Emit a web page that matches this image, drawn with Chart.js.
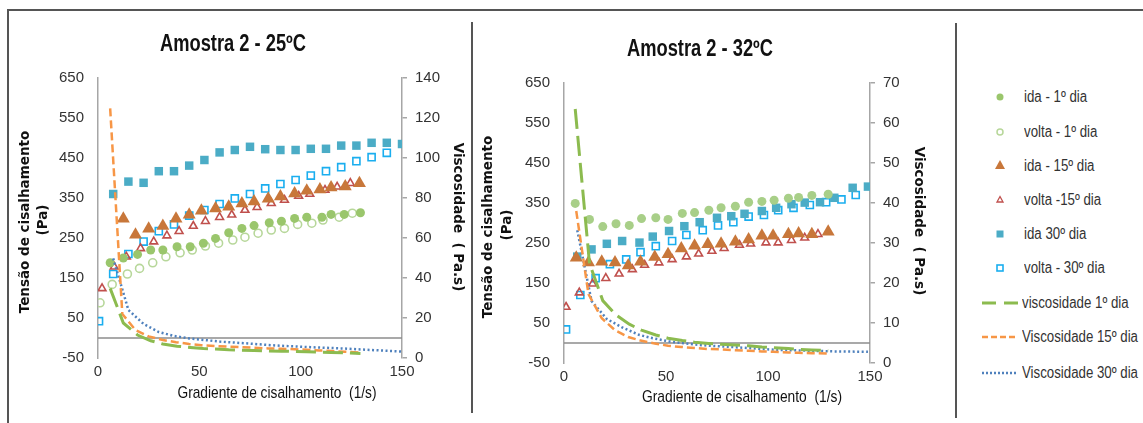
<!DOCTYPE html>
<html>
<head>
<meta charset="utf-8">
<script src="https://cdn.jsdelivr.net/npm/chart.js@4/dist/chart.umd.min.js"></script>
<style>
    body { margin: 0; background: #fff; width: 1143px; height: 423px; overflow: hidden; position: relative; }
    canvas { position: absolute; top: 0; }
    #c1 { left: 0; }
    #c2 { left: 470px; }
    .linha { position: absolute; background: #555; }
    .item { position: absolute; height: 20px; font-family: 'Liberation Sans', Arial, sans-serif; font-size: 16px; color: #333; white-space: nowrap; line-height: 20px; }
    .item svg { position: absolute; left: 0; top: 0; }
    .item span { position: absolute; top: 0; transform-origin: left center; }
</style>
</head>
<body>
<div class="linha" style="left:8px;top:9px;width:1135px;height:2px"></div>
<div class="linha" style="left:7px;top:9px;width:2px;height:414px"></div>
<div class="linha" style="left:471px;top:22px;width:2px;height:391px"></div>
<div class="linha" style="left:955px;top:23px;width:2px;height:395px"></div>
<canvas id="c1" width="470" height="423"></canvas>
<canvas id="c2" width="480" height="423"></canvas>
<script>
// Amostra 2 - 25ºC : gradiente (1/s) e tensao (Pa)
const gIda1_25 = [6, 12.5, 19.5, 26, 32, 39, 45.5, 52, 58, 64.5, 71, 77, 84.5, 90.5, 97, 103, 110.5, 115, 121.5, 129.5]
const tIda1_25 = [188, 200, 209, 220, 220, 228, 228, 237, 249, 263, 274, 281, 288, 292, 299, 302, 302, 309, 309, 313]
const gVolta1_25 = [1, 7, 14.5, 20.5, 27, 33.5, 40.5, 46.5, 53, 59.5, 66.5, 72.5, 79, 85.5, 92, 98.5, 105.5, 111, 119, 125.5]
const tVolta1_25 = [88, 134, 160, 174, 188, 203, 213, 220, 230, 237, 245, 252, 262, 270, 274, 284, 287, 295, 302, 312]
const gIda15_25 = [12.5, 18.5, 25, 32, 38.5, 45, 51, 58, 64.5, 71, 77, 84, 90, 97, 103, 109.5, 115, 122, 129]
const tIda15_25 = [298, 258, 273, 280, 298, 308, 318, 324, 328, 336, 341, 348, 354, 361, 368, 371, 376, 379, 387]
const gVolta15_25 = [2, 8, 14, 21, 27.5, 34, 40, 47, 53, 60, 66, 72.5, 78.5, 85.5, 92, 99, 104.5, 112, 118, 124.5]
const tVolta15_25 = [124, 178, 203, 224, 241, 256, 267, 280, 292, 302, 308, 320, 327, 337, 345, 355, 360, 370, 378, 387]
const gIda30_25 = [7.5, 15, 22.5, 30, 37.5, 45, 52.5, 60, 67.5, 75, 82.5, 90, 97.5, 105, 112.5, 120, 127.5, 135, 142.5, 150]
const tIda30_25 = [360, 391, 388, 417, 417, 431, 445, 464, 470, 478, 472, 470, 470, 473, 473, 481, 481, 488, 488, 485]
const gVolta30_25 = [0.5, 7.5, 15, 22.5, 30, 37.5, 45, 52.5, 60, 67.5, 75, 82.5, 90, 97.5, 105, 112.5, 120, 127.5, 135, 142.5]
const tVolta30_25 = [42, 160, 210, 241, 267, 284, 306, 320, 335, 349, 360, 374, 385, 395, 406, 417, 427, 442, 452, 463]
// viscosidade (Pa.s)
const gVisc15_25 = [6, 12, 18.5, 25, 32, 38.5, 45, 51, 58, 64.5, 71, 77, 84, 90, 97, 103, 109.5, 115, 122, 129]
const vVisc1_25 = [34.8, 17.5, 11.5, 8.6, 7.0, 5.9, 5.3, 4.75, 4.5, 4.1, 3.9, 3.7, 3.5, 3.4, 3.25, 3.1, 2.9, 2.8, 2.6, 2.3]
const vVisc15_25 = [124.8, 22, 14, 10.8, 9, 7.9, 7.0, 6.4, 6.0, 5.7, 5.4, 5.1, 4.8, 4.6, 4.4, 4.1, 3.8, 3.5, 3.1, 2.7]
const vVisc30_25 = [49.8, 24, 17, 13, 11, 9.8, 9, 8.2, 7.7, 7.2, 6.6, 6.1, 5.8, 5.4, 5.1, 4.8, 4.4, 4.0, 3.6, 3.2]

// Amostra 2 - 32ºC
const gIda1_32 = [5.5, 12.5, 19, 25.5, 32, 38, 45, 51, 58, 64, 71, 77, 84, 90.5, 97, 103, 110, 115, 121.5, 129.5]
const tIda1_32 = [349, 309, 291, 298, 294, 311, 313, 309, 324, 326, 332, 338, 342, 352, 354, 357, 362, 364, 369, 372]
const gIda15_32 = [6, 12, 18.5, 25, 31.5, 37.5, 44.5, 51, 57.5, 64, 70.5, 77, 84, 90.5, 97, 102.5, 110, 115, 121.5, 129.5]
const tIda15_32 = [213, 201, 203, 201, 194, 203, 215, 222, 236, 243, 247, 248, 253, 259, 268, 268, 272, 274, 272, 278]
const gVolta15_32 = [1, 7.5, 14, 20.5, 27, 33.5, 39.5, 46.5, 53, 60, 66, 72.5, 78.5, 86, 91.5, 99, 105, 111.5, 118, 124.5]
const tVolta15_32 = [90, 126, 148, 162, 173, 184, 195, 201, 209, 216, 223, 230, 237, 245, 248, 251, 251, 257, 263, 272]
const gIda30_32 = [6.5, 13.5, 21, 28.5, 37, 43.5, 51.5, 59, 66.5, 75, 82, 88.5, 97, 104, 111.5, 118, 125.5, 132.5, 141.5, 149]
const tIda30_32 = [216, 234, 248, 255, 251, 266, 280, 292, 302, 313, 317, 323, 330, 338, 347, 351, 352, 363, 388, 391]
const gVolta30_32 = [1, 8, 15.5, 22.5, 30.5, 37.5, 45, 53, 60, 68, 75.5, 83, 90.5, 98, 105, 112.5, 120.5, 128.5, 136, 143]
const tVolta30_32 = [34, 120, 162, 197, 209, 227, 242, 255, 270, 282, 294, 302, 316, 320, 332, 338, 345, 352, 359, 370]
const vVisc1_32 = [63.5, 24.9, 15.6, 12, 9.7, 8.2, 7.0, 6.2, 5.6, 5.2, 4.9, 4.7, 4.5, 4.3, 4.0, 3.8, 3.6, 3.4, 3.25, 3.1]
const vVisc15_32 = [38, 17.2, 11.2, 8.2, 6.5, 5.6, 4.9, 4.3, 4.0, 3.75, 3.5, 3.4, 3.2, 3.05, 2.9, 2.8, 2.65, 2.55, 2.45, 2.35]
const vVisc30_32 = [33.2, 15.5, 11, 8.9, 7, 6.2, 5.4, 4.9, 4.5, 4.2, 4.0, 3.8, 3.5, 3.3, 3.2, 3.1, 3.0, 2.9, 2.85, 2.8]

const xTicks = [0, 50, 100, 150]
const tensaoTicks = [-50, 50, 150, 250, 350, 450, 550, 650]

const fonte = "'Liberation Sans', Arial, sans-serif"
const verde = '#9ac66c', verdeClaro = '#b7d79a', marrom = '#c8773a', vermelho = '#c0504d'
const azul = '#4bacc6', ciano = '#1aaeef'
const lVerde = '#8cbb4f', lLaranja = '#f79646', lAzul = '#4f81bd'

function pts(xs, ys) {
    return xs.map((x, i) => ({ x: x, y: ys[i] }))
}

function marcador(label, data, estilo, raio, cor, cheio) {
    return {
        label: label, data: data, yAxisID: 'y', order: 2, showLine: false,
        pointStyle: estilo, pointRadius: raio, pointHoverRadius: raio,
        backgroundColor: cheio ? cor : 'rgba(255,255,255,0)',
        borderColor: cor, borderWidth: cheio ? 0 : 1.6
    }
}

function linha(label, data, cor, dash, largura) {
    return {
        label: label, data: data, yAxisID: 'y2', order: 1, showLine: true,
        borderColor: cor, borderWidth: largura, borderDash: dash, pointRadius: 0, tension: 0,
        backgroundColor: cor
    }
}

// linha do zero e textos (w = largura desejada, texto comprimido como Calibri)
const decoracao = {
    id: 'decoracao',
    beforeDatasetsDraw(chart) {
        const c = chart.ctx, a = chart.chartArea
        const y0 = chart.scales.y.getPixelForValue(0)
        c.save()
        c.strokeStyle = '#8c8c8c'
        c.lineWidth = 1.5
        c.beginPath()
        c.moveTo(a.left, y0)
        c.lineTo(a.right, y0)
        c.stroke()
        c.restore()
    },
    afterDraw(chart, args, opts) {
        const c = chart.ctx
        opts.textos.forEach(t => {
            c.save()
            c.translate(t.x, t.y)
            c.rotate(t.rot || 0)
            c.font = t.font
            if (t.w) c.scale(t.w / c.measureText(t.txt).width, 1)
            c.fillStyle = t.cor || '#111'
            c.textAlign = 'center'
            c.textBaseline = 'middle'
            c.fillText(t.txt, 0, 0)
            c.restore()
        })
    }
}

function grafico(id, datasets, v2max, v2step, area, textos) {
    const ctx = document.getElementById(id).getContext('2d')
    return new Chart(ctx, {
        type: 'scatter',
        data: { datasets: datasets },
        plugins: [decoracao],
        options: {
            responsive: false,
            animation: false,
            layout: { padding: { top: area.top, left: 0, right: 0, bottom: 0 } },
            plugins: {
                legend: { display: false },
                tooltip: { enabled: false },
                decoracao: { textos: textos }
            },
            scales: {
                x: {
                    type: 'linear', min: 0, max: 150,
                    afterBuildTicks: s => { s.ticks = xTicks.map(v => ({ value: v })) },
                    ticks: { padding: 5, color: '#333', font: { family: fonte, size: 15 } },
                    grid: { display: false, drawTicks: false },
                    border: { display: false },
                    afterFit: s => { s.height = area.xh }
                },
                y: {
                    position: 'left', min: -50, max: 650,
                    afterBuildTicks: s => { s.ticks = tensaoTicks.map(v => ({ value: v })) },
                    ticks: { padding: 14, color: '#333', font: { family: fonte, size: 15 } },
                    grid: { display: false, drawTicks: false },
                    border: { display: true, color: '#a6a6a6', width: 1.5 },
                    afterFit: s => { s.width = area.yw }
                },
                y2: {
                    position: 'right', min: 0, max: v2max,
                    ticks: { stepSize: v2step, padding: 8, color: '#333', font: { family: fonte, size: 15 } },
                    grid: { drawOnChartArea: false, drawTicks: true, tickLength: 5, color: '#a6a6a6', lineWidth: 1.5 },
                    border: { display: true, color: '#a6a6a6', width: 1.5 },
                    afterFit: s => { s.width = area.y2w }
                }
            }
        }
    })
}

const fTitulo = "bold 23px " + fonte
const fEixo = "bold 13.5px 'DejaVu Sans', sans-serif"
const fX = "17px " + fonte
const rotE = -Math.PI / 2, rotD = Math.PI / 2

grafico('c1', [
    linha('viscosidade 1º dia', pts(gIda1_25, vVisc1_25), lVerde, [20, 7], 3),
    linha('Viscosidade 15º dia', pts(gVisc15_25, vVisc15_25), lLaranja, [8, 4], 2.5),
    linha('Viscosidade 30º dia', pts(gIda30_25, vVisc30_25), lAzul, [2, 2.5], 2.5),
    marcador('ida - 1º dia', pts(gIda1_25, tIda1_25), 'circle', 4.5, verde, true),
    marcador('volta - 1º dia', pts(gVolta1_25, tVolta1_25), 'circle', 4, verdeClaro, false),
    marcador('ida - 15º dia', pts(gIda15_25, tIda15_25), 'triangle', 7.5, marrom, true),
    marcador('volta -15º dia', pts(gVolta15_25, tVolta15_25), 'triangle', 4.5, vermelho, false),
    marcador('ida 30º dia', pts(gIda30_25, tIda30_25), 'rect', 6, azul, true),
    marcador('volta - 30º dia', pts(gVolta30_25, tVolta30_25), 'rect', 5, ciano, false)
], 140, 20, { top: 78, yw: 98, y2w: 68, xh: 65 }, [
    { txt: 'Amostra 2 - 25ºC', x: 233, y: 45, font: fTitulo, w: 146 },
    { txt: 'Tensão de cisalhamento', x: 25, y: 222, rot: rotE, font: fEixo },
    { txt: '(Pa)', x: 43, y: 220, rot: rotE, font: fEixo },
    { txt: 'Viscosidade  ( Pa.s)', x: 457, y: 217, rot: rotD, font: fEixo },
    { txt: 'Gradiente de cisalhamento  (1/s)', x: 277, y: 393, font: fX, w: 199 }
])

grafico('c2', [
    linha('viscosidade 1º dia', pts(gIda1_32, vVisc1_32), lVerde, [20, 7], 3),
    linha('Viscosidade 15º dia', pts(gIda15_32, vVisc15_32), lLaranja, [8, 4], 2.5),
    linha('Viscosidade 30º dia', pts(gIda30_32, vVisc30_32), lAzul, [2, 2.5], 2.5),
    marcador('ida - 1º dia', pts(gIda1_32, tIda1_32), 'circle', 4.5, '#a8cf88', true),
    marcador('ida - 15º dia', pts(gIda15_32, tIda15_32), 'triangle', 7.5, marrom, true),
    marcador('volta -15º dia', pts(gVolta15_32, tVolta15_32), 'triangle', 4.5, vermelho, false),
    marcador('ida 30º dia', pts(gIda30_32, tIda30_32), 'rect', 6, azul, true),
    marcador('volta - 30º dia', pts(gVolta30_32, tVolta30_32), 'rect', 5, ciano, false)
], 70, 10, { top: 83, yw: 94, y2w: 80, xh: 60 }, [
    { txt: 'Amostra 2 - 32ºC', x: 230, y: 50, font: fTitulo, w: 146 },
    { txt: 'Tensão de cisalhamento', x: 18, y: 227, rot: rotE, font: fEixo },
    { txt: '(Pa)', x: 37, y: 225, rot: rotE, font: fEixo },
    { txt: 'Viscosidade  ( Pa.s)', x: 448, y: 221, rot: rotD, font: fEixo },
    { txt: 'Gradiente de cisalhamento  (1/s)', x: 272, y: 397, font: fX, w: 200 }
])

// legenda
const legendaItens = [
    ['ida - 1º dia', '<circle cx="20" cy="10" r="3.5" fill="' + verde + '"/>'],
    ['volta - 1º dia', '<circle cx="20" cy="10" r="3" fill="none" stroke="' + verdeClaro + '" stroke-width="1.5"/>'],
    ['ida - 15º dia', '<polygon points="20,4 25,13 15,13" fill="' + marrom + '"/>'],
    ['volta -15º dia', '<polygon points="20,6.5 23,12 17,12" fill="none" stroke="' + vermelho + '" stroke-width="1.3"/>'],
    ['ida 30º dia', '<rect x="16.5" y="6.5" width="7" height="7" fill="' + azul + '"/>'],
    ['volta - 30º dia', '<rect x="17" y="7" width="6" height="6" fill="none" stroke="' + ciano + '" stroke-width="1.6"/>'],
    ['viscosidade 1º dia', '<line x1="2" y1="10" x2="38" y2="10" stroke="' + lVerde + '" stroke-width="3" stroke-dasharray="14,8"/>'],
    ['Viscosidade 15º dia', '<line x1="2" y1="10" x2="38" y2="10" stroke="' + lLaranja + '" stroke-width="2.5" stroke-dasharray="6,3"/>'],
    ['Viscosidade 30º dia', '<line x1="2" y1="10" x2="38" y2="10" stroke="' + lAzul + '" stroke-width="2.5" stroke-dasharray="2,2"/>']
]
const legendaY = [97, 132, 166, 200, 234, 268, 303, 337, 373]
const spans = []
legendaItens.forEach((it, i) => {
    const d = document.createElement('div')
    d.className = 'item'
    d.style.left = '980px'
    d.style.top = (legendaY[i] - 10) + 'px'
    d.innerHTML = '<svg width="40" height="20">' + it[1] + '</svg><span style="left:' + (i < 6 ? 44 : 42) + 'px">' + it[0] + '</span>'
    document.body.appendChild(d)
    spans.push(d.querySelector('span'))
})
// comprime o texto para a largura da fonte original (Calibri)
const maior = Math.max(...spans.map(s => s.getBoundingClientRect().width))
spans.forEach(s => { s.style.transform = 'scaleX(' + (116 / maior) + ')' })
</script>
</body>
</html>
